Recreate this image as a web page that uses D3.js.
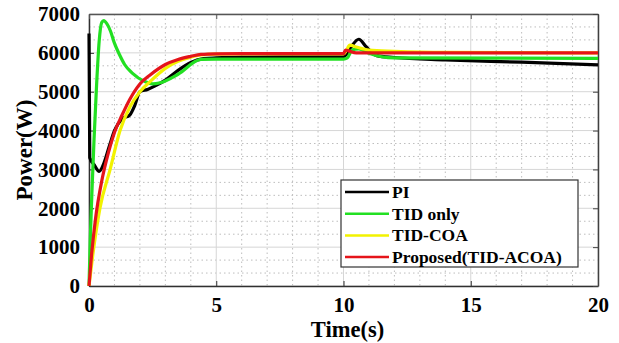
<!DOCTYPE html>
<html>
<head>
<meta charset="utf-8">
<script src="https://cdn.jsdelivr.net/npm/d3@7"></script>
<style>
html,body{margin:0;padding:0;background:#fff;}
svg{display:block;}
</style>
</head>
<body>
<svg id="chart" width="619" height="343"></svg>
<script>
// ---- data ----
const xTicks = [0, 5, 10, 15, 20];
const yTicks = [0, 1000, 2000, 3000, 4000, 5000, 6000, 7000];
const seriesNames = ["PI", "TID only", "TID-COA", "Proposed(TID-ACOA)"];
const seriesColors = ["#000000", "#22e022", "#f2f200", "#e5141a"];

const piTime = [0, 0.03, 0.2, 0.4, 0.55, 0.8, 1.0, 1.3, 1.6, 1.8, 2.0, 2.3, 2.6, 3.0, 3.5, 4.0, 4.5, 5.0, 6.0, 8.0, 10.0, 10.1, 10.3, 10.6, 10.9, 11.3, 12, 14, 17, 20];
const piPower = [6500, 3300, 3120, 2950, 3100, 3600, 4000, 4300, 4400, 4650, 5000, 5060, 5150, 5300, 5550, 5750, 5850, 5870, 5890, 5900, 5900, 5950, 6150, 6350, 6150, 5930, 5880, 5820, 5760, 5690];

const tidTime = [0, 0.05, 0.12, 0.2, 0.3, 0.4, 0.5, 0.58, 0.7, 0.85, 1.0, 1.2, 1.4, 1.7, 2.2, 2.5, 2.8, 3.5, 4.4, 5.0, 8.0, 10.0, 10.15, 10.35, 10.6, 11.0, 11.5, 12, 20];
const tidPower = [0, 1200, 2500, 3800, 5200, 6300, 6780, 6830, 6750, 6550, 6250, 5950, 5700, 5480, 5260, 5200, 5230, 5450, 5830, 5840, 5840, 5840, 5870, 6080, 6100, 5990, 5900, 5870, 5860];

const coaTime = [0, 0.15, 0.43, 0.83, 1.22, 1.6, 2.0, 2.4, 3.0, 3.5, 4.0, 4.4, 5, 6, 8, 10, 10.1, 10.25, 10.5, 11, 12, 14, 20];
const coaPower = [0, 800, 2000, 3000, 4000, 4600, 5000, 5260, 5600, 5780, 5890, 5945, 5965, 5970, 5970, 5970, 6050, 6200, 6150, 6070, 6040, 6010, 6000];

const acoaTime = [0, 0.1, 0.25, 0.5, 0.75, 1.0, 1.3, 1.6, 2.0, 2.4, 3.0, 3.5, 4.0, 4.4, 5.0, 6.0, 8.0, 10.0, 10.08, 10.2, 10.5, 12, 20];
const acoaPower = [0, 800, 1700, 2700, 3400, 3950, 4400, 4800, 5200, 5430, 5700, 5830, 5910, 5960, 5975, 5980, 5980, 5980, 6070, 6050, 6000, 6000, 6000];

const seriesTimes = [piTime, tidTime, coaTime, acoaTime];
const seriesPowers = [piPower, tidPower, coaPower, acoaPower];

// ---- layout ----
const svg = d3.select("#chart");
const L = 89, R = 598, T = 14, B = 286;
const FONT = "Liberation Serif";
const x = d3.scaleLinear().domain([0, 20]).range([L, R]);
const y = d3.scaleLinear().domain([0, 7000]).range([B, T]);

// minor grid (dotted)
const g = svg.append("g");
const xMinor = d3.range(0, 20.001, 1).filter(v => v % 5 !== 0);
const yMinor = d3.range(0, 7000.001, 1000 / 3).filter(v => Math.abs(v / 1000 - Math.round(v / 1000)) > 0.01);
g.selectAll(".xm").data(xMinor).enter().append("line")
  .attr("x1", d => x(d)).attr("x2", d => x(d)).attr("y1", T).attr("y2", B)
  .attr("stroke", "#bdbdbd").attr("stroke-width", 1).attr("stroke-dasharray", "1.5,3");
g.selectAll(".ym").data(yMinor).enter().append("line")
  .attr("x1", L).attr("x2", R).attr("y1", d => y(d)).attr("y2", d => y(d))
  .attr("stroke", "#bdbdbd").attr("stroke-width", 1).attr("stroke-dasharray", "1.5,3");
// major grid
g.selectAll(".xg").data(xTicks).enter().append("line")
  .attr("x1", d => x(d)).attr("x2", d => x(d)).attr("y1", T).attr("y2", B)
  .attr("stroke", "#d6d6d6").attr("stroke-width", 1);
g.selectAll(".yg").data(yTicks).enter().append("line")
  .attr("x1", L).attr("x2", R).attr("y1", d => y(d)).attr("y2", d => y(d))
  .attr("stroke", "#d6d6d6").attr("stroke-width", 1);

// axes
const xAxis = d3.axisBottom(x).tickValues(xTicks).tickSizeInner(-5).tickSizeOuter(0).tickPadding(11).tickFormat(d3.format("d"));
const yAxis = d3.axisLeft(y).tickValues(yTicks).tickSizeInner(-5).tickSizeOuter(0).tickPadding(9).tickFormat(d3.format("d"));
const xa = svg.append("g").attr("transform", `translate(0,${B})`).call(xAxis);
const ya = svg.append("g").attr("transform", `translate(${L},0)`).call(yAxis);
[xa, ya].forEach(a => {
  a.attr("font-family", null).attr("font-size", null);
  a.select(".domain").attr("stroke", "#303030").attr("stroke-width", 1.5);
  a.selectAll(".tick line").attr("stroke", "#303030");
  a.selectAll("text").style("font-size", "21px").style("font-family", FONT).style("font-weight", "bold").attr("fill", "#000");
});
// top and right ticks
svg.append("g").attr("transform", `translate(0,${T})`)
  .call(d3.axisTop(x).tickValues(xTicks).tickSizeInner(-5).tickSizeOuter(0).tickFormat(""))
  .call(a => { a.select(".domain").attr("stroke", "#555").attr("stroke-width", 1.5); a.selectAll("line").attr("stroke", "#555"); });
svg.append("g").attr("transform", `translate(${R},0)`)
  .call(d3.axisRight(y).tickValues(yTicks).tickSizeInner(-5).tickSizeOuter(0).tickFormat(""))
  .call(a => { a.select(".domain").attr("stroke", "#404040").attr("stroke-width", 1.5); a.selectAll("line").attr("stroke", "#404040"); });

// lines
const line = d3.line().x(d => x(d[0])).y(d => y(d[1])).curve(d3.curveMonotoneX);
svg.append("clipPath").attr("id", "clip").append("rect")
  .attr("x", L - 3).attr("y", T - 3).attr("width", R - L + 6).attr("height", B - T + 3);
seriesTimes.forEach((ts, i) => {
  const pts = ts.map((t, k) => [t, seriesPowers[i][k]]);
  svg.append("path").datum(pts).attr("d", line)
    .attr("fill", "none").attr("stroke", seriesColors[i]).attr("stroke-width", 3.2)
    .attr("stroke-linejoin", "round").attr("clip-path", "url(#clip)");
});

// legend
const lg = svg.append("g");
lg.append("rect").attr("x", 341).attr("y", 180).attr("width", 237).attr("height", 87)
  .attr("fill", "#fff").attr("stroke", "#333").attr("stroke-width", 1.2);
seriesNames.forEach((n, i) => {
  const yy = 192 + i * 21.7;
  lg.append("line").attr("x1", 345).attr("x2", 389).attr("y1", yy).attr("y2", yy)
    .attr("stroke", seriesColors[i]).attr("stroke-width", 2.5);
  lg.append("text").attr("x", 392).attr("y", yy + 6)
    .style("font-family", FONT).style("font-weight", "bold").style("font-size", "17.5px").text(n);
});

// axis titles
svg.append("text").attr("x", (L + R) / 2 + 4).attr("y", 337).attr("text-anchor", "middle")
  .style("font-family", FONT).style("font-weight", "bold").style("font-size", "22.5px").text("Time(s)");
svg.append("text").attr("transform", `translate(32,${(T + B) / 2}) rotate(-90)`).attr("text-anchor", "middle")
  .style("font-family", FONT).style("font-weight", "bold").style("font-size", "23px").text("Power(W)");
</script>
</body>
</html>
